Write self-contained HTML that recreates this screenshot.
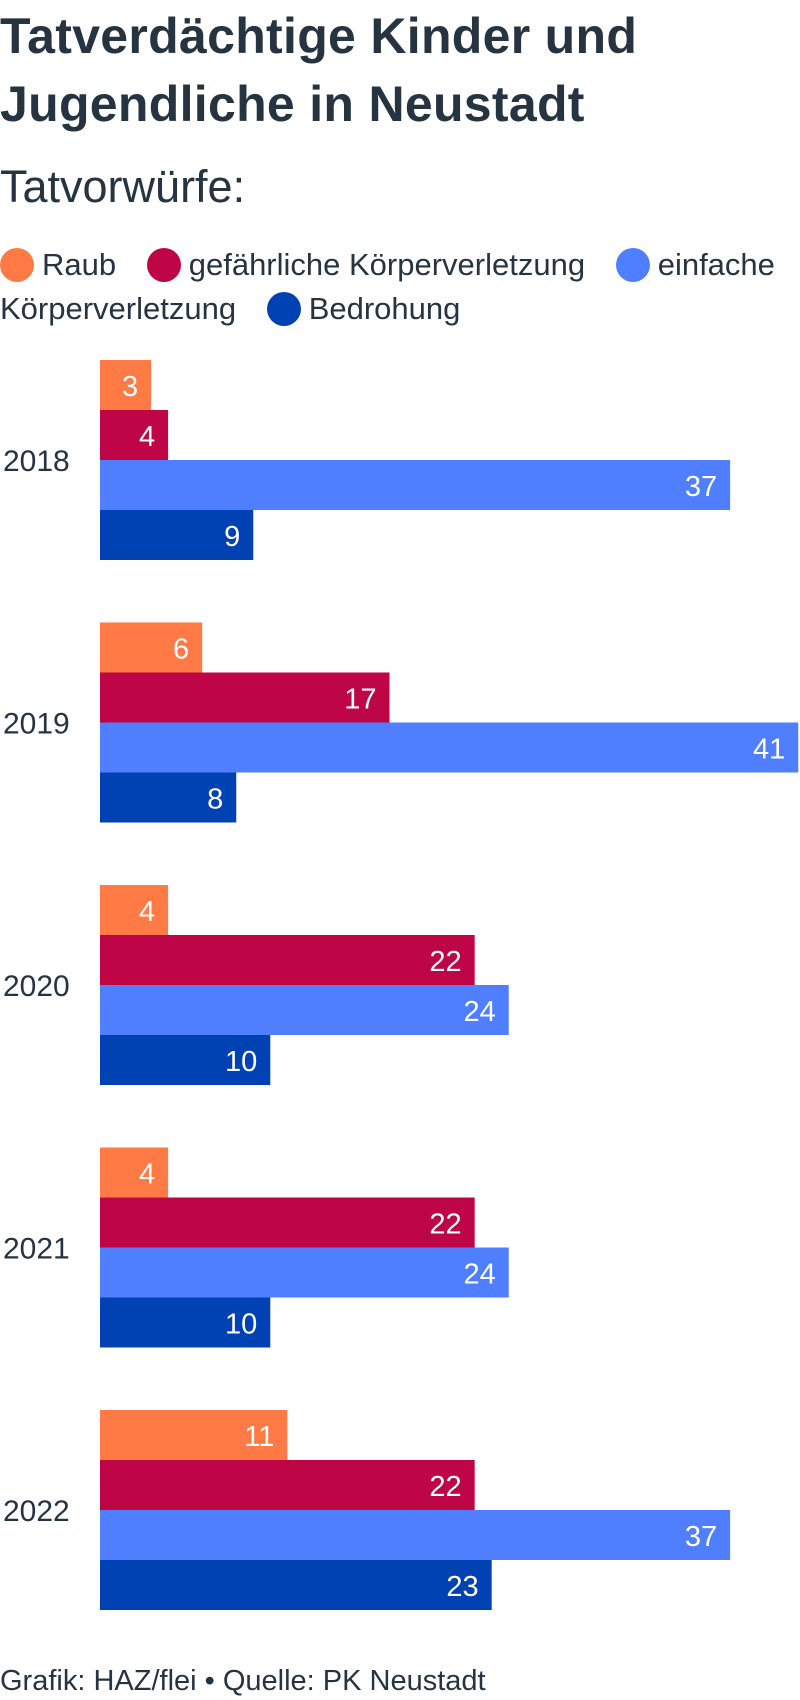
<!DOCTYPE html>
<html><head><meta charset="utf-8">
<style>
body{margin:0;width:800px;height:1700px;background:#fff;font-family:"Liberation Sans",sans-serif;color:#263442;overflow:hidden;position:relative}
.title{position:absolute;left:0;top:2px;font-family:"Liberation Sans Narrow","Liberation Sans",sans-serif;font-weight:bold;font-size:50px;line-height:68px;letter-spacing:0.3px}
.sub{position:absolute;left:0;top:162px;font-size:45px;line-height:50px}
.legend{position:absolute;left:0;top:243px;width:800px;font-size:31px;line-height:44px}
.li{display:inline-block;margin-right:22px;white-space:nowrap}
.dot{display:inline-block;width:34px;height:34px;border-radius:50%;vertical-align:-7px;margin-right:8px}
.foot{position:absolute;left:0;top:1665px;font-size:29px}
</style></head><body>
<div class="title">Tatverdächtige Kinder und<br>Jugendliche in Neustadt</div>
<div class="sub">Tatvorwürfe:</div>
<div class="legend">
<span class="li"><span class="dot" style="background:#FF7A45"></span>Raub</span>
<span class="li"><span class="dot" style="background:#BE0646"></span>gefährliche Körperverletzung</span>
<span><span class="dot" style="background:#4F7FFF"></span>einfache Körperverletzung</span>
<span class="li" style="margin-left:22px"><span class="dot" style="background:#0041B4"></span>Bedrohung</span>
</div>
<svg id="chart" width="800" height="1700" style="position:absolute;left:0;top:0"></svg>
<div class="foot">Grafik: HAZ/flei • Quelle: PK Neustadt</div>
<script>
const years = ["2018","2019","2020","2021","2022"];
const raub = [3,6,4,4,11];
const gefaehrlich = [4,17,22,22,22];
const einfach = [37,41,24,24,37];
const bedrohung = [9,8,10,10,23];
const seriesNames = ["raub","gefaehrlich","einfach","bedrohung"];
const series = [raub,gefaehrlich,einfach,bedrohung];
const colors = ["#FF7A45","#BE0646","#4F7FFF","#0041B4"];
const NS="http://www.w3.org/2000/svg";
const svg=document.getElementById('chart');
const x0=100, pxPerUnit=17.03, top0=360, groupStep=262.5, barH=50;
function x(v){return x0+v*pxPerUnit;}
function yGroup(i){return top0+i*groupStep;}
years.forEach((yr,i)=>{
  const gy=yGroup(i);
  const lab=document.createElementNS(NS,'text');
  
  
  lab.setAttribute('x',3);lab.setAttribute('y',gy+barH*2+11);
  lab.setAttribute('font-size','30');lab.setAttribute('fill','#263442');
  lab.textContent=yr;svg.appendChild(lab);
  series.forEach((s,j)=>{
    const v=s[i];
    const r=document.createElementNS(NS,'rect');
    
    
    r.setAttribute('x',x0);r.setAttribute('y',gy+j*barH);
    r.setAttribute('width',x(v)-x0);r.setAttribute('height',barH);
    r.setAttribute('fill',colors[j]);svg.appendChild(r);
    const t=document.createElementNS(NS,'text');
    
    
    t.setAttribute('x',x(v)-13);t.setAttribute('y',gy+j*barH+36);
    t.setAttribute('text-anchor','end');t.setAttribute('font-size','29');
    t.setAttribute('fill','#fff');t.textContent=v;svg.appendChild(t);
  });
});
</script>
</body></html>
